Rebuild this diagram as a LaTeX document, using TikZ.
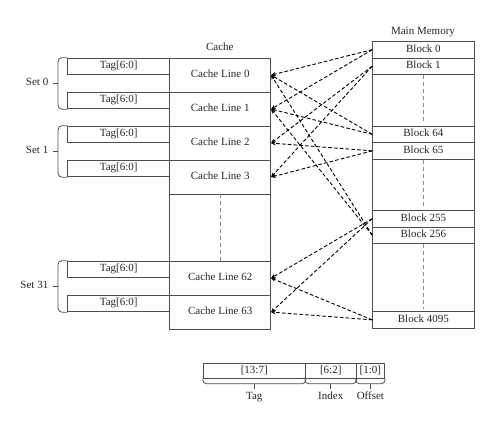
\documentclass[tikz,border=0pt]{standalone}
\usepackage{fontspec}
\setmainfont{Liberation Serif}
\usetikzlibrary{arrows.meta}
\definecolor{boxgray}{HTML}{4E4E4E}
\definecolor{txtgray}{HTML}{262626}
\definecolor{dashgray}{HTML}{8A8A8A}
\begin{document}
\begin{tikzpicture}[x=1pt,y=-1pt,
  font=\fontsize{11}{13}\selectfont,
  every node/.style={text=txtgray, inner sep=0pt, text height=7pt, text depth=2pt},
  box/.style={draw=boxgray, line width=0.8pt, anchor=north west},
  cline/.style={box, minimum width=101pt, minimum height=34pt},
  tagbox/.style={box, minimum width=102pt, minimum height=16.7pt},
  mblock/.style={box, minimum width=101.4pt, minimum height=16.5pt},
  field/.style={box, minimum height=15pt},
  brace/.style={draw=boxgray, line width=0.8pt, rounded corners=4pt},
  vdash/.style={draw=dashgray, line width=0.8pt, dash pattern=on 4pt off 3pt},
  conn/.style={draw=black, line width=0.9pt, dash pattern=on 3.6pt off 2.2pt,
    -{Stealth[length=4.5pt,width=4pt]}}
]
\useasboundingbox (0,0) rectangle (491,421);

% ---- cache ----
\node (cachetitle) at (219.8,48.3) {Cache};
\node[cline] (c0)  at (169.3,57.7)  {Cache Line 0};
\node[cline] (c1)  at (169.3,91.7)  {Cache Line 1};
\node[cline] (c2)  at (169.3,125.7) {Cache Line 2};
\node[cline] (c3)  at (169.3,159.7) {Cache Line 3};
\node[cline, minimum height=67pt] (cgap) at (169.3,193.7) {};
\node[cline] (c62) at (169.3,260.7) {Cache Line 62};
\node[cline] (c63) at (169.3,294.7) {Cache Line 63};
\draw[vdash] (cgap.north) -- (cgap.south);

% ---- tags ----
\node[tagbox] (t0)  at (67.3,57.7)  {Tag[6:0]};
\node[tagbox] (t1)  at (67.3,91.7)  {Tag[6:0]};
\node[tagbox] (t2)  at (67.3,125.7) {Tag[6:0]};
\node[tagbox] (t3)  at (67.3,159.7) {Tag[6:0]};
\node[tagbox] (t62) at (67.3,260.7) {Tag[6:0]};
\node[tagbox] (t63) at (67.3,294.7) {Tag[6:0]};

% ---- sets ----
\coordinate (br0)  at (58,83.2);
\coordinate (br1)  at (58,151.2);
\coordinate (br31) at (58,286);
\draw[brace] (t0.north west) -| (br0) |- (t1.south west);
\draw[brace] (t2.north west) -| (br1) |- (t3.south west);
\draw[brace] (t62.north west) -| (br31) |- (t63.south west);
\draw[draw=boxgray, line width=0.8pt] (br0) -- ++(-5,0);
\draw[draw=boxgray, line width=0.8pt] (br1) -- ++(-5,0);
\draw[draw=boxgray, line width=0.8pt] (br31) -- ++(-5,0);
\node[anchor=east] (set0)  at (48.5,83.2)  {Set 0};
\node[anchor=east] (set1)  at (48.5,151.2) {Set 1};
\node[anchor=east] (set31) at (48.5,286)   {Set 31};

% ---- main memory ----
\node (memtitle) at (423,32.3) {Main Memory};
\node[mblock] (b0)    at (372.3,41)    {Block 0};
\node[mblock] (b1)    at (372.3,57.5)  {Block 1};
\node[mblock, minimum height=51.7pt] (g1) at (372.3,74) {};
\node[mblock] (b64)   at (372.3,125.7) {Block 64};
\node[mblock] (b65)   at (372.3,142.2) {Block 65};
\node[mblock, minimum height=51.3pt] (g2) at (372.3,158.7) {};
\node[mblock] (b255)  at (372.3,210)   {Block 255};
\node[mblock] (b256)  at (372.3,226.5) {Block 256};
\node[mblock, minimum height=68.2pt] (g3) at (372.3,243) {};
\node[mblock] (b4095) at (372.3,311.2) {Block 4095};
\draw[vdash, shorten <=1pt, shorten >=3pt] (g1.north) -- (g1.south);
\draw[vdash, shorten <=1pt, shorten >=3pt] (g2.north) -- (g2.south);
\draw[vdash, shorten <=1pt, shorten >=3pt] (g3.north) -- (g3.south);

% ---- block to line mappings ----
\draw[conn] (b0.west) -- (c0.east);
\draw[conn] (b0.west) -- (c1.east);
\draw[conn] (b1.west) -- (c2.east);
\draw[conn] (b1.west) -- (c3.east);
\draw[conn] (b64.west) -- (c0.east);
\draw[conn] (b64.west) -- (c1.east);
\draw[conn] (b65.west) -- (c2.east);
\draw[conn] (b65.west) -- (c3.east);
\draw[conn] (b255.west) -- (c62.east);
\draw[conn] (b255.west) -- (c63.east);
\draw[conn] (b256.west) -- (c0.east);
\draw[conn] (b256.west) -- (c1.east);
\draw[conn] (b4095.west) -- (c62.east);
\draw[conn] (b4095.west) -- (c63.east);

% ---- address format ----
\node[field, minimum width=102.3pt] (f1) at (202.7,363) {[13:7]};
\node[field, minimum width=50.7pt]  (f2) at (305,363)   {[6:2]};
\node[field, minimum width=28.6pt]  (f3) at (355.7,363) {[1:0]};
\foreach \f in {f1,f2,f3}{
  \draw[brace] (\f.south west) -- ++(0,5) -| (\f.south east);
  \draw[draw=boxgray, line width=0.8pt] ([yshift=-5pt]\f.south) -- ([yshift=-10pt]\f.south);
}
\node (ltag) at ([yshift=-18.5pt]f1.south) {Tag};
\node (lidx) at ([yshift=-18.5pt]f2.south) {Index};
\node (loff) at ([yshift=-18.5pt]f3.south) {Offset};
\end{tikzpicture}
\end{document}
